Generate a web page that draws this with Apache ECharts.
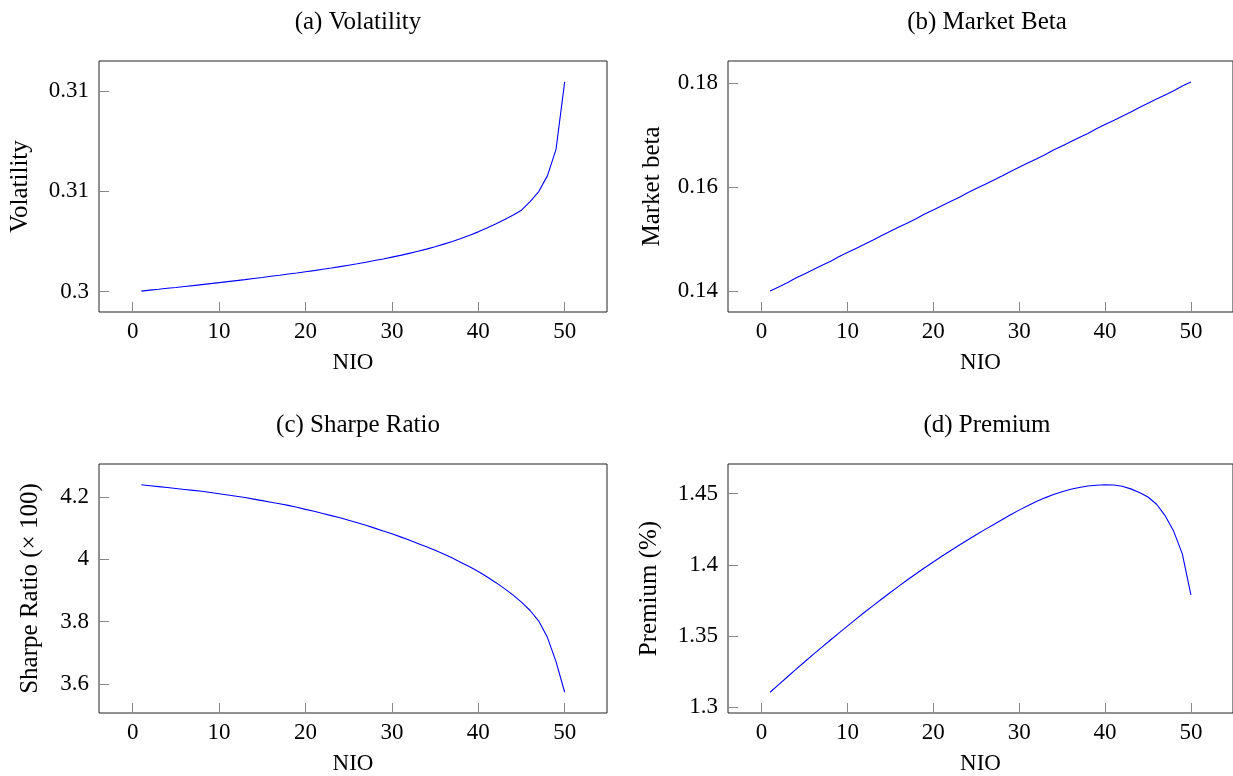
<!DOCTYPE html>
<html><head><meta charset="utf-8">
<script src="https://cdn.jsdelivr.net/npm/echarts@6/dist/echarts.min.js"></script>
<style>html,body{margin:0;padding:0;background:#fff}#c{width:1233px;height:776px}</style>
</head><body><div id="c"></div>
<script>
// ---- data ----
const nio = [1,2,3,4,5,6,7,8,9,10,11,12,13,14,15,16,17,18,19,20,21,22,23,24,25,26,27,28,29,30,31,32,33,34,35,36,37,38,39,40,41,42,43,44,45,46,47,48,49,50];
const volatility = [0.30003,0.30008,0.30012,0.30017,0.30021,0.30026,0.30030,0.30035,0.30040,0.30045,
  0.30050,0.30055,0.30060,0.30066,0.30071,0.30077,0.30082,0.30088,0.30093,0.30099,
  0.30105,0.30112,0.30118,0.30125,0.30132,0.30139,0.30147,0.30155,0.30163,0.30172,
  0.30181,0.30191,0.30201,0.30212,0.30224,0.30237,0.30250,0.30265,0.30281,0.30298,
  0.30317,0.30337,0.30358,0.30381,0.30406,0.30449,0.30499,0.30577,0.30709,0.31045];
const marketBeta = [0.1400,0.1408,0.1416,0.1425,0.1433,0.1441,0.1449,0.1457,0.1466,0.1474,
  0.1482,0.1490,0.1498,0.1507,0.1515,0.1523,0.1531,0.1539,0.1548,0.1556,
  0.1564,0.1572,0.1580,0.1589,0.1597,0.1605,0.1613,0.1621,0.1630,0.1638,
  0.1646,0.1654,0.1662,0.1671,0.1679,0.1687,0.1695,0.1703,0.1712,0.1720,
  0.1728,0.1736,0.1744,0.1753,0.1761,0.1769,0.1777,0.1785,0.1794,0.1802];
const sharpe = [4.239,4.236,4.233,4.230,4.227,4.224,4.221,4.218,4.214,4.210,
  4.206,4.202,4.198,4.193,4.188,4.183,4.178,4.173,4.167,4.160,
  4.154,4.147,4.140,4.133,4.125,4.117,4.109,4.100,4.091,4.082,
  4.072,4.062,4.051,4.040,4.029,4.017,4.004,3.990,3.976,3.961,
  3.944,3.926,3.907,3.886,3.863,3.836,3.802,3.750,3.672,3.574];
const premium = [1.3106,1.3160,1.3213,1.3266,1.3318,1.3370,1.3421,1.3471,1.3521,1.3570,
  1.3619,1.3667,1.3714,1.3760,1.3806,1.3851,1.3895,1.3938,1.3980,1.4020,
  1.4060,1.4099,1.4137,1.4174,1.4211,1.4247,1.4282,1.4317,1.4351,1.4384,
  1.4415,1.4444,1.4470,1.4493,1.4513,1.4530,1.4543,1.4553,1.4559,1.4562,
  1.4560,1.4551,1.4533,1.4508,1.4476,1.4425,1.4345,1.4235,1.4077,1.3790];
const xTicks = [0,10,20,30,40,50];
const volTicks = [0.3,0.305,0.31];       const volTickLabels = ['0.3','0.31','0.31'];
const betaTicks = [0.14,0.16,0.18];      const betaTickLabels = ['0.14','0.16','0.18'];
const sharpeTicks = [3.6,3.8,4,4.2];     const sharpeTickLabels = ['3.6','3.8','4','4.2'];
const premTicks = [1.3,1.35,1.4,1.45];   const premTickLabels = ['1.3','1.35','1.4','1.45'];
const titles = ['(a) Volatility','(b) Market Beta','(c) Sharpe Ratio','(d) Premium'];
const yNames = ['Volatility','Market beta','Sharpe Ratio (\u00d7 100)','Premium (%)'];
const xName = 'NIO';

// ---- layout ----
const FONT = 'Liberation Serif';
const FS_NUM = 23;
const FS_TXT = 25;
const boxes = [
  {left:99, top:61, width:508, height:251, nameGap:66},
  {left:728, top:61, width:508, height:251, nameGap:63},
  {left:99, top:464, width:508, height:251, nameGap:56},
  {left:728, top:464, width:508, height:251, nameGap:66}
];
const series = [volatility, marketBeta, sharpe, premium];
const yTicks = [volTicks, betaTicks, sharpeTicks, premTicks];
const yTickLabels = [volTickLabels, betaTickLabels, sharpeTickLabels, premTickLabels];

function enlarged(arr){
  const lo = Math.min(...arr), hi = Math.max(...arr), d = (hi-lo)*0.1;
  return [lo-d, hi+d];
}
const xr = enlarged(nio);

const option = {
  animation:false,
  backgroundColor:'#fff',
  textStyle:{fontFamily:FONT},
  title: boxes.map((b,i)=>({
    text: titles[i], left: b.left + b.width/2, top: b.top - 56, textAlign:'center',
    textStyle:{fontFamily:FONT, fontSize:FS_TXT, fontWeight:'normal', color:'#000'}
  })),
  grid: boxes.map(b=>({left:b.left, top:b.top, width:b.width, height:b.height,
    show:true, borderColor:'#222', borderWidth:1, backgroundColor:'transparent'})),
  xAxis: boxes.map((b,i)=>({
    type:'value', gridIndex:i, min:xr[0], max:xr[1],
    name:xName, nameLocation:'middle', nameGap:39,
    nameTextStyle:{fontFamily:FONT, fontSize:23, color:'#000'},
    axisLine:{show:false, onZero:false}, splitLine:{show:false},
    axisTick:{show:true, inside:true, length:10, customValues:xTicks, lineStyle:{color:'#888', width:1}},
    axisLabel:{customValues:xTicks, margin:8, fontFamily:FONT, fontSize:FS_NUM, color:'#000', formatter:v=>String(v)}
  })),
  yAxis: boxes.map((b,i)=>{
    const r = enlarged(series[i]);
    return {
      type:'value', gridIndex:i, min:r[0], max:r[1],
      name:yNames[i], nameLocation:'middle', nameRotate:90, nameGap:b.nameGap,
      nameTextStyle:{fontFamily:FONT, fontSize:FS_TXT, color:'#000'},
      axisLine:{show:false, onZero:false}, splitLine:{show:false},
      axisTick:{show:true, inside:true, length:10, customValues:yTicks[i], lineStyle:{color:'#888', width:1}},
      axisLabel:{customValues:yTicks[i], margin:10, fontFamily:FONT, fontSize:FS_NUM, color:'#000',
        formatter:v=>{ const k = yTicks[i].findIndex(t=>Math.abs(t-v)<1e-9); return k>=0 ? yTickLabels[i][k] : ''; }}
    };
  }),
  series: series.map((s,i)=>({
    type:'line', xAxisIndex:i, yAxisIndex:i, showSymbol:false, symbol:'none',
    data: nio.map((x,k)=>[x, s[k]]),
    lineStyle:{color:'#0000ff', width:1.1}
  }))
};
const chart = echarts.init(document.getElementById('c'), null, {renderer:'canvas'});
chart.setOption(option);
</script>
</body></html>
